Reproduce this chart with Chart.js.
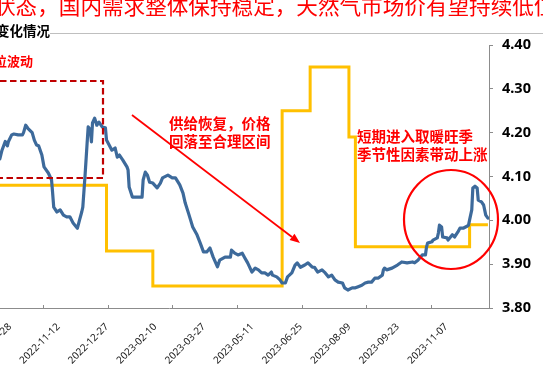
<!DOCTYPE html>
<html><head><meta charset="utf-8">
<script src="https://cdn.jsdelivr.net/npm/chart.js@4.4.0/dist/chart.umd.min.js"></script>
<style>
html,body{margin:0;padding:0;width:543px;height:370px;overflow:hidden;background:#fff;}
body{position:relative;}
#wrap{position:absolute;left:-151px;top:0;width:694px;height:370px;}
.t{position:absolute;white-space:nowrap;font-family:"Noto Sans CJK SC","Noto Sans",sans-serif;}
svg{position:absolute;left:0;top:0;}
</style></head><body>
<div id="wrap"><canvas id="c" width="694" height="370"></canvas></div>
<svg width="543" height="370">
  <rect x="-10" y="81" width="113" height="97" fill="none" stroke="#C00000" stroke-width="2.2" stroke-dasharray="6.5,3.5"/>
  <line x1="132" y1="115" x2="292" y2="237" stroke="#FF0000" stroke-width="1.8"/>
  <polygon points="300,243 289.6,240.1 294.5,233.8" fill="#FF0000"/>
  <ellipse cx="451" cy="219.5" rx="47" ry="49.5" fill="none" stroke="#FF0000" stroke-width="2.2"/>
</svg>
<div class="t" style="left:-6px;top:-6px;font-size:21.6px;line-height:21.6px;color:#FF0000;">状态，国内需求整体保持稳定，天然气市场价有望持续低位</div>
<div class="t" style="left:-4px;top:23.5px;font-size:13.5px;line-height:13.5px;font-weight:bold;color:#000;">变化情况</div>
<div style="position:absolute;left:50px;top:33px;width:500px;height:1px;background:#BFBFBF;"></div>
<div class="t" style="left:-6px;top:53.5px;font-size:13px;line-height:13px;font-weight:bold;color:#FF0000;">位波动</div>
<div class="t" style="left:169px;top:113.5px;font-size:14.5px;line-height:18px;font-weight:bold;color:#FF0000;">供给恢复，价格<br>回落至合理区间</div>
<div class="t" style="left:357px;top:126.5px;font-size:14.5px;line-height:18px;font-weight:bold;color:#FF0000;">短期进入取暖旺季<br>季节性因素带动上涨</div>
<script>
// ---- data ----
const dates = [
 '2022-08-19','2022-08-21','2022-08-24','2022-08-26','2022-08-27','2022-08-30',
 '2022-09-01','2022-09-05','2022-09-09','2022-09-10','2022-09-12','2022-09-14','2022-09-18','2022-09-20','2022-09-22','2022-09-24','2022-09-27','2022-09-29',
 '2022-10-03','2022-10-06','2022-10-07','2022-10-08','2022-10-11','2022-10-14','2022-10-17','2022-10-20','2022-10-23','2022-10-26','2022-10-29','2022-10-30',
 '2022-11-01','2022-11-03','2022-11-04','2022-11-06','2022-11-08','2022-11-09','2022-11-11','2022-11-12','2022-11-13','2022-11-15','2022-11-17','2022-11-19','2022-11-22','2022-11-25','2022-11-26',
 '2022-12-01','2022-12-04','2022-12-06','2022-12-08','2022-12-11','2022-12-15','2022-12-16','2022-12-17','2022-12-20','2022-12-24','2022-12-29','2022-12-30',
 '2023-01-01','2023-01-03','2023-01-05','2023-01-08','2023-01-12','2023-01-15','2023-01-17','2023-01-22','2023-01-26','2023-01-29',
 '2023-02-02','2023-02-05','2023-02-07','2023-02-10','2023-02-12','2023-02-14','2023-02-18','2023-02-21','2023-02-24','2023-02-27',
 '2023-03-02','2023-03-05','2023-03-09','2023-03-11','2023-03-16','2023-03-21','2023-03-22','2023-03-25','2023-03-28',
 '2023-04-01','2023-04-03','2023-04-06','2023-04-10','2023-04-13','2023-04-16','2023-04-19','2023-04-22','2023-04-25','2023-04-28','2023-04-29',
 '2023-05-03','2023-05-06','2023-05-08','2023-05-11','2023-05-13','2023-05-17','2023-05-20','2023-05-22','2023-05-25','2023-05-29',
 '2023-06-01','2023-06-05','2023-06-07','2023-06-10','2023-06-14','2023-06-17','2023-06-20','2023-06-23','2023-06-26','2023-06-29',
 '2023-07-03','2023-07-05','2023-07-08','2023-07-12','2023-07-15','2023-07-17','2023-07-21','2023-07-24','2023-07-27','2023-07-30',
 '2023-08-02','2023-08-05','2023-08-09','2023-08-10','2023-08-11','2023-08-13','2023-08-18','2023-08-23','2023-08-27',
 '2023-09-01','2023-09-06','2023-09-08','2023-09-11','2023-09-15','2023-09-18','2023-09-19','2023-09-20','2023-09-24','2023-09-25','2023-09-29','2023-09-30',
 '2023-10-01','2023-10-03','2023-10-04','2023-10-08','2023-10-09','2023-10-13','2023-10-15','2023-10-18','2023-10-20','2023-10-23','2023-10-27','2023-10-28','2023-10-29','2023-10-31',
 '2023-11-01','2023-11-03','2023-11-05','2023-11-06','2023-11-09','2023-11-11','2023-11-13','2023-11-15'
];
const price = [
 4.14,4.16,4.18,4.17,4.18,4.195,
 4.197,4.195,4.195,4.20,4.217,4.21,4.20,4.183,4.172,4.17,4.149,4.122,
 4.108,4.092,4.062,4.03,4.019,4.024,4.012,4.008,4.008,3.994,3.985,3.982,
 4.001,4.019,4.03,4.099,4.176,4.213,4.206,4.179,4.222,4.233,4.217,4.224,4.213,4.211,4.183,
 4.16,4.165,4.144,4.149,4.138,4.122,4.115,4.076,4.053,4.053,4.053,4.092,
 4.11,4.103,4.087,4.085,4.074,4.085,4.097,4.103,4.097,4.097,
 4.081,4.062,4.04,4.017,4.001,3.985,3.967,3.948,3.928,3.928,
 3.937,3.916,3.894,3.909,3.916,3.916,3.932,3.925,3.921,
 3.925,3.916,3.903,3.882,3.891,3.887,3.88,3.88,3.875,3.882,3.875,
 3.871,3.864,3.857,3.857,3.871,3.88,3.898,3.903,3.893,3.898,
 3.903,3.893,3.893,3.882,3.887,3.88,3.871,3.875,3.864,3.859,
 3.857,3.846,3.841,3.846,3.846,3.848,3.852,3.857,3.859,3.859,
 3.868,3.868,3.875,3.887,3.891,3.887,3.891,3.898,3.905,
 3.903,3.905,3.903,3.909,3.921,3.921,3.939,3.948,3.951,3.955,3.96,3.971,
 3.989,3.985,3.962,3.96,3.955,3.967,3.962,3.973,3.982,3.982,3.987,3.989,4.001,4.024,
 4.074,4.078,4.074,4.046,4.042,4.035,4.012,4.005
];
// reference price (step line)
const stepDates  = ['2022-08-14','2022-11-26','2023-01-08','2023-05-08','2023-06-03','2023-07-09','2023-07-15','2023-10-29','2023-11-15'];
const stepValues = [4.08, 3.93, 3.85, 4.25, 4.35, 4.19, 3.94, 3.99, 3.99];
// axis labels and tick marks
const xLabelDates = ['2022-08-14','2022-09-28','2022-11-12','2022-12-27','2023-02-10','2023-03-27','2023-05-11','2023-06-25','2023-08-09','2023-09-23','2023-11-07'];
const xTickMarkDates = ['2022-07-30','2022-09-28','2022-11-27','2023-01-26','2023-03-27','2023-05-26','2023-07-25','2023-09-23'];
const yTicks = [3.80,3.90,4.00,4.10,4.20,4.30,4.40];
const xStart = '2022-04-01', xEnd = '2023-11-16';

const BASE = Date.UTC(2022,8,28);
function dayOf(s){const p=s.split('-').map(Number);return Math.round((Date.UTC(p[0],p[1]-1,p[2])-BASE)/86400000);}
function fmt(n){return new Date(BASE+n*86400000).toISOString().slice(0,10);}

const tickMarkPlugin = {
  id:'tickMarks',
  afterDraw(chart){
    const sx = chart.scales.x, ctx = chart.ctx, b = chart.chartArea.bottom;
    ctx.save(); ctx.strokeStyle='#8c8c8c'; ctx.lineWidth=1;
    xTickMarkDates.forEach(d=>{
      const px = Math.round(sx.getPixelForValue(dayOf(d)))+0.5;
      if(px < chart.chartArea.left || px > chart.chartArea.right) return;
      ctx.beginPath(); ctx.moveTo(px,b); ctx.lineTo(px,b-3); ctx.stroke();
    });
    ctx.restore();
  }
};

new Chart(document.getElementById('c'),{
  type:'line',
  data:{datasets:[
    {label:'价格', data:dates.map((d,i)=>({x:dayOf(d),y:price[i]})), borderColor:'#3D6A9B', borderWidth:3.2, pointRadius:0, tension:0, borderJoinStyle:'round', borderCapStyle:'round'},
    {label:'参考价', data:stepDates.map((d,i)=>({x:dayOf(d),y:stepValues[i]})), borderColor:'#FFC000', borderWidth:3, pointRadius:0, stepped:'before'}
  ]},
  options:{
    responsive:false, animation:false, devicePixelRatio:1,
    layout:{padding:{top:45,left:0,right:0,bottom:0}},
    plugins:{legend:{display:false},tooltip:{enabled:false}},
    scales:{
      x:{type:'linear', position:'bottom', min:dayOf(xStart), max:dayOf(xEnd),
        afterBuildTicks:s=>{s.ticks = xLabelDates.map(d=>({value:dayOf(d)}));},
        afterFit:s=>{s.height=62;},
        grid:{display:true, drawOnChartArea:false, drawTicks:false},
        border:{display:true,color:'#8c8c8c',width:1},
        ticks:{autoSkip:false, minRotation:45, maxRotation:45, padding:13, labelOffset:-33,
          color:'#1a1a1a', font:{family:'"Noto Sans"', size:10},
          callback:v=>fmt(v)}
      },
      y:{position:'right', min:3.8, max:4.4,
        afterBuildTicks:s=>{s.ticks = yTicks.map(v=>({value:v}));},
        afterFit:s=>{s.width=54;},
        grid:{drawOnChartArea:false, drawTicks:true, tickLength:4, color:'#8c8c8c'},
        border:{display:true,color:'#8c8c8c',width:1},
        ticks:{padding:9, color:'#000', font:{family:'"Noto Sans"', size:14.5, weight:'bold'}, callback:v=>Number(v).toFixed(2)}
      }
    }
  },
  plugins:[tickMarkPlugin]
});
</script>
</body></html>
